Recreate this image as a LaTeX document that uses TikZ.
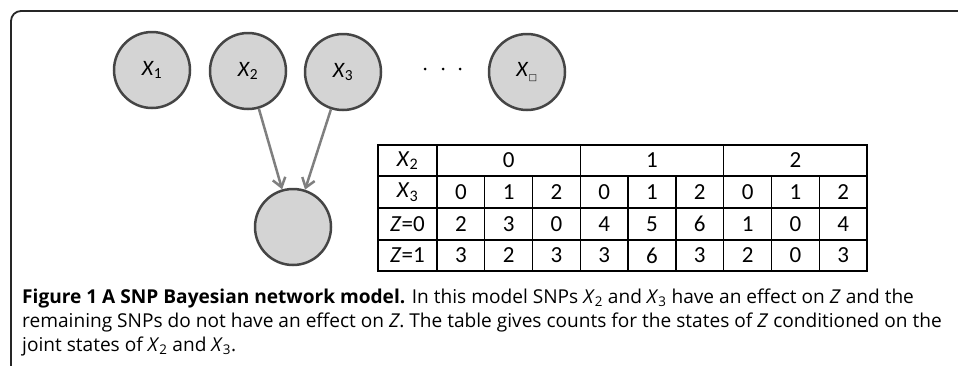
\documentclass[tikz,border=0pt]{standalone}
\usepackage{fontspec}
\setmainfont{Open Sans}
\newfontfamily\tabfont{Carlito}
\newfontfamily\symfont{DejaVu Sans}
\usetikzlibrary{arrows.meta}
\definecolor{nodefill}{HTML}{D4D4D4}
\definecolor{nodeline}{HTML}{454545}
\definecolor{arrowgray}{HTML}{7F7F7F}
\newcommand\snpvar[2]{\textit{#1}\textsubscript{#2}}
\tikzset{
  snp/.style={circle,draw=nodeline,fill=nodefill,line width=2.5pt,minimum size=76pt,inner sep=0pt,
    font=\tabfont\fontsize{22}{22}\selectfont},
  cell/.style={inner sep=0pt,font=\tabfont\fontsize{23}{23}\selectfont},
  tabline/.style={line width=1.4pt,black},
  capline/.style={anchor=base west,inner sep=0pt,font=\fontsize{19.1}{24}\selectfont},
}
\begin{document}
\begin{tikzpicture}[x=1pt,y=-1pt,>={Straight Barb[length=9pt,width=13pt]}]
  \useasboundingbox (0,0) rectangle (958,365);
  % frame
  \draw[line width=1.8pt,rounded corners=10pt,black!85] (11,366) -- (11,11) -- (959,11);
  % network
  \node[snp] (x1) at (152,70) {\snpvar{X}{1}};
  \node[snp] (x2) at (248,71) {\snpvar{X}{2}};
  \node[snp] (x3) at (343,72) {\snpvar{X}{3}};
  \node[snp] (xn) at (527,72) {\snpvar{X}{{\symfont\fontsize{9}{9}\selectfont □}}};
  \node[snp] (z) at (293,227) {};
  \foreach \x in {425,443,460} \fill (\x,69) circle (1.5pt);
  \draw[->,line width=2.5pt,arrowgray] (x2) -- (z);
  \draw[->,line width=2.5pt,arrowgray] (x3) -- (z);
  % table
  \draw[tabline] (378,145) rectangle (867,271);
  \foreach \y in {176,208,240} \draw[tabline] (378,\y) -- (867,\y);
  \foreach \i in {0,3,6} \draw[tabline] ({437+47.78*\i},145) -- ({437+47.78*\i},271);
  \foreach \i in {1,2,4,5,7,8} \draw[tabline] ({437+47.78*\i},176) -- ({437+47.78*\i},271);
  \node[cell] (h2) at (407.5,160.5) {\snpvar{X}{2}};
  \node[cell] (h3) at (407.5,192) {\snpvar{X}{3}};
  \node[cell] (z0) at (407.5,224) {\textit{Z}=0};
  \node[cell] (z1) at (407.5,255.5) {\textit{Z}=1};
  \foreach \v [count=\i] in {0,1,2}
    \node[cell] (a-\i) at ({437+47.78*(3*\i-1.5)},160.5) {\v};
  \foreach \v [count=\i] in {0,1,2,0,1,2,0,1,2}
    \node[cell] (b-\i) at ({437+47.78*(\i-0.5)},192) {\v};
  \foreach \v [count=\i] in {2,3,0,4,5,6,1,0,4}
    \node[cell] (c-\i) at ({437+47.78*(\i-0.5)},224) {\v};
  \foreach \v [count=\i] in {3,2,3,3,6,3,2,0,3}
    \node[cell] (d-\i) at ({437+47.78*(\i-0.5)},255.5) {\v};
  % caption
  \node[capline] (cap1) at (22,303) {\textbf{Figure 1 A SNP Bayesian network model.} In this model SNPs \snpvar{X}{2} and \snpvar{X}{3} have an effect on \textit{Z} and the};
  \node[capline] (cap2) at (22,327) {remaining SNPs do not have an effect on \textit{Z}. The table gives counts for the states of \textit{Z} conditioned on the};
  \node[capline] (cap3) at (22,351) {joint states of \snpvar{X}{2} and \snpvar{X}{3}.};
\end{tikzpicture}
\end{document}
